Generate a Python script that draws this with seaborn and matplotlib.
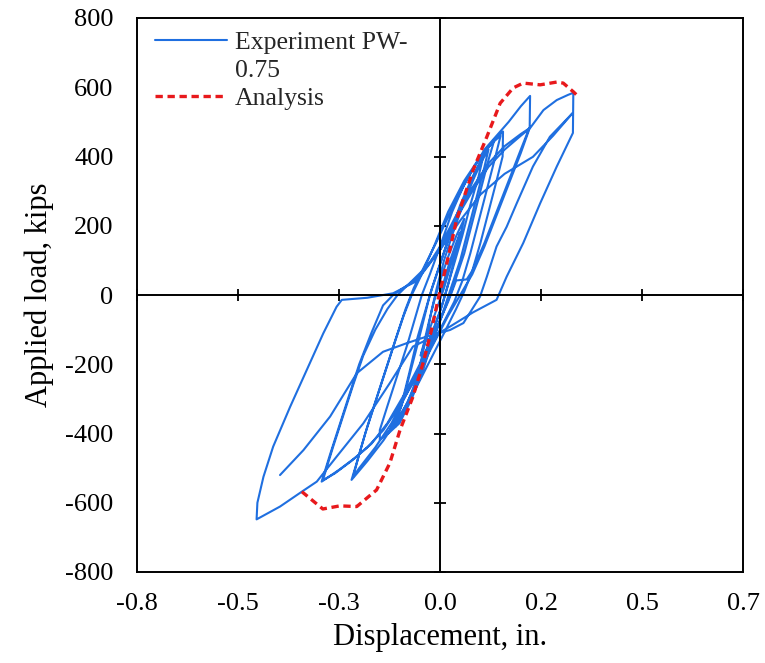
import matplotlib
matplotlib.use("Agg")
import matplotlib.pyplot as plt
import seaborn as sns
import pandas as pd
from matplotlib.lines import Line2D

# ---------------- data ----------------
exp_disp = [
    0.000, 0.010, 0.025, 0.040, 0.050, 0.040, 0.025, 0.010, -0.005, -0.020,
    -0.035, -0.048, -0.040, -0.028, -0.015, 0.000, 0.020, 0.040, 0.060, 0.050,
    0.035, 0.020, 0.005, -0.015, -0.035, -0.055, -0.045, -0.030, -0.020, -0.008,
    0.010, 0.035, 0.060, 0.085, 0.105, 0.095, 0.075, 0.055, 0.035, 0.020,
    0.005, -0.020, -0.045, -0.070, -0.095, -0.110,
    -0.095, -0.075, -0.055, -0.035, -0.020, 0.000, 0.030, 0.060, 0.090, 0.120,
    0.110, 0.090, 0.070, 0.050, 0.030, 0.010, -0.015, -0.040, -0.070, -0.100, -0.128,
    -0.095, -0.075, -0.055, -0.040,
    -0.025, -0.005, 0.020, 0.050, 0.080, 0.110, 0.135, 0.120, 0.100, 0.080,
    0.060, 0.040, 0.025, 0.005, -0.020, -0.050, -0.080, -0.110, -0.135, -0.149,
    -0.149, -0.130, -0.105, -0.080, -0.060, -0.045, -0.025, 0.000, 0.030, 0.060,
    0.090, 0.120, 0.150, 0.156, 0.155, 0.140, 0.120, 0.100, 0.080, 0.060,
    0.040, 0.010, -0.025, -0.060, -0.100, -0.140, -0.180, -0.219, -0.205, -0.185,
    -0.160, -0.135, -0.110, -0.090, -0.070, -0.045, -0.015, 0.020, 0.060, 0.100,
    0.130, 0.150, 0.135, 0.115, 0.095, 0.075, 0.055, 0.035, 0.000, -0.040,
    -0.080, -0.120, -0.160, -0.200, -0.215, -0.200, -0.180, -0.155, -0.130, -0.105,
    -0.085, -0.065, -0.040, -0.010, 0.030, 0.070, 0.110, 0.140, 0.170, 0.200,
    0.223, 0.222, 0.200, 0.170, 0.140, 0.110, 0.080, 0.066, 0.040, 0.020,
    -0.010, -0.050, -0.090, -0.130, -0.170, -0.210, -0.250, -0.275, -0.293, -0.272,
    -0.250, -0.225, -0.200, -0.170, -0.141, -0.116, -0.085, -0.058, -0.030, 0.000,
    0.040, 0.080, 0.120, 0.160, 0.200, 0.222, 0.200, 0.170, 0.140, 0.110,
    0.080, 0.050, 0.020, -0.020, -0.060, -0.100, -0.140, -0.180, -0.220, -0.260,
    -0.290, -0.265, -0.240, -0.215, -0.190, -0.160, -0.130, -0.105, -0.070, -0.035,
    0.000, 0.040, 0.080, 0.120, 0.160, 0.200, 0.223, 0.256, 0.289, 0.317,
    0.330, 0.329, 0.289, 0.248, 0.206, 0.165, 0.140, 0.082, 0.025, -0.025,
    -0.067, -0.124, -0.190, -0.256, -0.305, -0.342, -0.396, -0.454, -0.452, -0.437,
    -0.413, -0.371, -0.330, -0.289, -0.256, -0.243, -0.180, -0.116, -0.058, 0.000,
    0.050, 0.100, 0.160, 0.230, 0.280, 0.328, 0.272, 0.230, 0.190, 0.165,
    0.140, 0.116, 0.099, 0.058, 0.025, -0.033, -0.082, -0.141, -0.206, -0.272,
    -0.338, -0.396,
]
exp_load = [
    0, 40, 100, 150, 180, 140, 80, 20, -30, -80,
    -130, -175, -140, -80, -20, 40, 110, 170, 220, 170,
    100, 30, -30, -100, -170, -230, -180, -100, -40, 20,
    100, 190, 270, 340, 390, 340, 260, 170, 90, 30,
    -30, -110, -200, -280, -350, -380,
    -315, -220, -120, -40, 20, 90, 190, 280, 360, 420,
    370, 280, 190, 100, 30, -40, -120, -210, -300, -370, -400,
    -320, -230, -140, -70,
    0, 70, 160, 260, 340, 410, 450, 390, 300, 210,
    120, 50, 0, -60, -140, -230, -310, -370, -405, -419,
    -390, -320, -230, -140, -60, 0, 60, 140, 240, 320,
    380, 430, 465, 472, 400, 330, 240, 150, 70, 10,
    -40, -110, -190, -270, -350, -420, -480, -534, -480, -400,
    -310, -220, -130, -60, 0, 60, 140, 240, 330, 400,
    440, 460, 390, 300, 210, 120, 40, -20, -100, -190,
    -280, -370, -440, -500, -525, -460, -380, -290, -200, -110,
    -40, 20, 80, 150, 250, 340, 420, 460, 500, 545,
    575, 485, 420, 330, 240, 150, 70, 45, 42, -20,
    -100, -200, -290, -370, -430, -470, -505, -525, -539, -460,
    -380, -290, -200, -110, -30, 0, 25, 45, 85, 140,
    230, 310, 380, 430, 465, 482, 410, 320, 230, 140,
    60, 0, -60, -150, -240, -320, -390, -440, -480, -515,
    -535, -440, -350, -260, -175, -100, -40, 0, 40, 80,
    130, 220, 300, 370, 420, 460, 482, 534, 563, 578,
    584, 468, 371, 265, 150, 53, -14, -50, -91, -125,
    -149, -254, -371, -467, -539, -568, -611, -648, -600, -525,
    -438, -323, -217, -111, -34, -14, -8, 5, 40, 130,
    215, 290, 350, 399, 460, 525, 457, 371, 265, 197,
    140, 53, -5, -81, -101, -120, -139, -164, -226, -351,
    -448, -520,
]

ana_disp = [-0.342, -0.290, -0.248, -0.206, -0.157, -0.124, -0.099, -0.067, -0.042,
            -0.021, -0.005, 0.017, 0.041, 0.057, 0.082, 0.116, 0.149, 0.181, 0.206,
            0.248, 0.289, 0.305, 0.330, 0.338]
ana_load = [-568, -618, -609, -611, -563, -485, -390, -294, -197,
            -101, -14, 92, 217, 274, 361, 457, 554, 598, 612,
            607, 615, 612, 587, 578]

x_ticks = [-0.75, -0.5, -0.25, 0.0, 0.25, 0.5, 0.75]
x_tick_labels = ["-0.8", "-0.5", "-0.3", "0.0", "0.2", "0.5", "0.7"]
y_ticks = [-800, -600, -400, -200, 0, 200, 400, 600, 800]
y_tick_labels = [str(v) for v in y_ticks]

exp_label = "Experiment PW-"
exp_label2 = "0.75"
ana_label = "Analysis"

# ---------------- style ----------------
sns.set_theme(style="white")
plt.rcParams["font.family"] = ["Liberation Serif", "DejaVu Serif"]

BLUE = "#1f6fe0"
RED = "#e8191c"

fig = plt.figure(figsize=(7.65, 6.63), dpi=100)
pos = [137 / 765, 1 - 572 / 663, (743 - 137) / 765, (572 - 18) / 663]
ax = fig.add_axes(pos)

df_exp = pd.DataFrame({"disp": exp_disp, "load": exp_load})
df_ana = pd.DataFrame({"disp": ana_disp, "load": ana_load})

sns.lineplot(data=df_exp, x="disp", y="load", sort=False, estimator=None,
             color=BLUE, lw=1.5, ax=ax, label=exp_label)
sns.lineplot(data=df_ana, x="disp", y="load", sort=False, estimator=None,
             color=RED, lw=2.4, ax=ax, label=ana_label, zorder=3)
ax.lines[-1].set_linestyle((0, (2.2, 1.4)))

ax.set_xlim(-0.75, 0.75)
ax.set_ylim(-800, 800)
ax.spines["left"].set_position("zero")
ax.spines["bottom"].set_position("zero")
ax.spines["top"].set_visible(False)
ax.spines["right"].set_visible(False)
for s in ("left", "bottom"):
    ax.spines[s].set_color("black")
    ax.spines[s].set_linewidth(1.4)
ax.set_xticks(x_ticks)
ax.set_yticks(y_ticks)
ax.tick_params(axis="both", which="major", direction="inout", length=9,
               width=1.3, color="black", labelleft=False, labelbottom=False,
               left=True, bottom=True)
ax.set_xlabel("")
ax.set_ylabel("")

# legend
h, l = ax.get_legend_handles_labels()
blank = Line2D([], [], color="none")
leg = ax.legend([h[0], blank, h[1]], [exp_label, exp_label2, ana_label],
                loc="upper left", bbox_to_anchor=(0.005, 1.005), frameon=False,
                fontsize=18.5, handlelength=2.8, handletextpad=0.3,
                labelspacing=0.2, borderaxespad=0.2)

# frame axes with tick labels
ax2 = fig.add_axes(pos, facecolor="none")
ax2.set_xlim(-0.75, 0.75)
ax2.set_ylim(-800, 800)
ax2.set_xticks(x_ticks)
ax2.set_xticklabels(x_tick_labels)
ax2.set_yticks(y_ticks)
ax2.set_yticklabels(y_tick_labels)
ax2.tick_params(axis="both", length=0, labelsize=19, colors="black")
ax2.tick_params(axis="x", pad=15)
ax2.tick_params(axis="y", pad=17)
for s in ax2.spines.values():
    s.set_visible(True)
    s.set_color("black")
    s.set_linewidth(1.4)
ax2.set_xlabel("Displacement, in.", fontsize=22, labelpad=6, color="black")
ax2.set_ylabel("Applied load, kips", fontsize=22, labelpad=8, color="black")
ax2.grid(False)

fig.savefig("out.png", dpi=100)
